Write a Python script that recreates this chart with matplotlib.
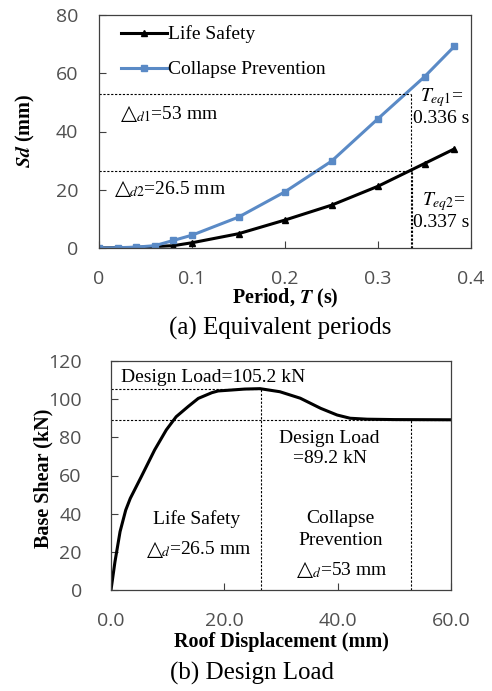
import numpy as np
import matplotlib
matplotlib.use("Agg")
import matplotlib.pyplot as plt

plt.rcParams['mathtext.fontset'] = 'stix'

# (a) equivalent periods
period = [0, 0.02, 0.04, 0.06, 0.08, 0.10, 0.15, 0.20, 0.25, 0.30, 0.35, 0.382]
sd_life = [0, 0.1, 0.2, 0.5, 0.8, 1.8, 4.9, 9.6, 14.7, 21.2, 29.0, 34.0]
sd_collapse = [0, 0.1, 0.3, 0.8, 2.6, 4.4, 10.6, 19.3, 29.8, 44.4, 58.8, 69.2]
d1, d2 = 53.0, 26.5
teq1, teq2 = 0.336, 0.337

# (b) design load (pushover curve)
disp = [0, 0.7, 1.6, 2.6, 3.4, 5.35, 7.7, 9.76, 11.5, 13.6, 15.4, 17.8, 18.9,
        21.3, 23.6, 26.3, 29.8, 33.4, 37.0, 39.9, 42.2, 45.2, 50.0, 60.0]
shear = [0, 14.8, 30.6, 41.9, 48.0, 59.4, 73.4, 83.9, 90.8, 96.1, 100.4, 103.4,
         104.3, 104.8, 105.3, 105.5, 103.9, 100.5, 95.2, 91.7, 90.0, 89.5,
         89.3, 89.2]
load_peak, load_cp = 105.2, 89.2
d_ls, d_cp = 26.5, 53.0

W, H = 492, 691
fig = plt.figure(figsize=(W / 100, H / 100), dpi=100)

serif = ['Liberation Serif', 'DejaVu Serif']
sans = ['Open Sans', 'DejaVu Sans']
tick_col = '#505050'
blue = '#5A8AC6'
dash = (0, (2, 1.5))


def px_axes(l, t, r, b):
    return fig.add_axes([l / W, 1 - b / H, (r - l) / W, (b - t) / H])


def style(ax, pad_x, pad_y):
    ax.tick_params(direction='in', length=5, width=0.8, colors='#404040',
                   labelcolor=tick_col, labelsize=14)
    ax.tick_params(axis='x', pad=pad_x)
    ax.tick_params(axis='y', pad=pad_y)
    for lab in ax.get_xticklabels() + ax.get_yticklabels():
        lab.set_family(sans)
    for sp in ax.spines.values():
        sp.set_color('#404040')
        sp.set_linewidth(0.9)


def delta_text(ax, x, y, sub, rest):
    # hollow triangle followed by italic subscript and the value
    ax.annotate('\u25b3', (x, y), fontsize=15, family=['DejaVu Sans'],
                va='baseline', ha='left')
    ax.annotate(r'$_{\mathit{' + sub + r'}}$' + rest, (x, y),
                xytext=(10.5, 0), textcoords='offset points',
                fontsize=14, family=serif, va='baseline', ha='left')


# ---- top chart ----
ax1 = px_axes(99, 15, 471, 248)
ax1.plot(period, sd_life, color='black', lw=2.2, marker='^', ms=4,
         label='Life Safety')
ax1.plot(period, sd_collapse, color=blue, lw=2.2, marker='s', ms=4,
         label='Collapse Prevention')
ax1.plot([0, teq1], [d1, d1], color='black', lw=0.8, ls=dash)
ax1.plot([teq1, teq1], [0, d1], color='black', lw=0.8, ls=dash)
ax1.plot([0, teq2], [d2, d2], color='black', lw=0.8, ls=dash)
ax1.plot([teq2, teq2], [0, d2], color='black', lw=0.8, ls=dash)
ax1.set_xlim(0, 0.4)
ax1.set_ylim(0, 80)
ax1.set_xticks([0, 0.1, 0.2, 0.3, 0.4])
ax1.set_xticklabels(['0', '0.1', '0.2', '0.3', '0.4'])
ax1.set_yticks([0, 20, 40, 60, 80])
style(ax1, 16, 15)
ax1.legend(loc='upper left', frameon=False, handlelength=2.4,
           handletextpad=0.05, labelspacing=0.9, borderaxespad=0,
           borderpad=0, bbox_to_anchor=(0.058, 0.955),
           prop={'family': serif, 'size': 14})

delta_text(ax1, 0.0237, 44.2, 'd1', '=53 mm')
delta_text(ax1, 0.017, 18.4, 'd2', '=26.5 mm')
ax1.text(0.345, 51.5, r'$T_{eq1}$=', family=serif, fontsize=14, va='center')
ax1.text(0.3376, 44.6, '0.336 s', family=serif, fontsize=14, va='center')
ax1.text(0.347, 15.8, r'$T_{eq2}$=', family=serif, fontsize=14, va='center')
ax1.text(0.3376, 8.6, '0.337 s', family=serif, fontsize=14, va='center')

fig.text(285 / W, 1 - 298 / H, r'Period, $\mathbfit{T}$ (s)', family=serif,
         fontsize=14.5, weight='bold', ha='center', va='center')
fig.text(25 / W, 1 - 131 / H, r'$\mathbfit{Sd}$ (mm)', family=serif,
         fontsize=14.5, weight='bold', ha='center', va='center', rotation=90)
fig.text(280 / W, 1 - 328 / H, '(a) Equivalent periods', family=serif,
         fontsize=18, ha='center', va='center')

# ---- bottom chart ----
ax2 = px_axes(111, 361, 451, 590)
ax2.plot(disp, shear, color='black', lw=2.2)
ax2.plot([0, d_ls], [load_peak, load_peak], color='black', lw=0.8, ls=dash)
ax2.plot([d_ls, d_ls], [0, load_peak], color='black', lw=0.8, ls=dash)
ax2.plot([0, 60], [load_cp, load_cp], color='black', lw=0.8, ls=dash)
ax2.plot([d_cp, d_cp], [0, load_cp], color='black', lw=0.8, ls=dash)
ax2.set_xlim(0, 60)
ax2.set_ylim(0, 120)
ax2.set_xticks([0, 20, 40, 60])
ax2.set_xticklabels(['0.0', '20.0', '40.0', '60.0'])
ax2.set_yticks([0, 20, 40, 60, 80, 100, 120])
style(ax2, 16, 21)

ax2.text(1.8, 111.6, 'Design Load=105.2 kN', family=serif, fontsize=14,
         va='center')
ax2.text(38.6, 79.4, 'Design Load', family=serif, fontsize=14,
         ha='center', va='center')
ax2.text(38.6, 68.9, '=89.2 kN', family=serif, fontsize=14,
         ha='center', va='center')
ax2.text(15.1, 37, 'Life Safety', family=serif, fontsize=14,
         ha='center', va='center')
delta_text(ax2, 6.3, 18.6, 'd', '=26.5 mm')
ax2.text(40.5, 37.5, 'Collapse', family=serif, fontsize=14,
         ha='center', va='center')
ax2.text(40.5, 26.2, 'Prevention', family=serif, fontsize=14,
         ha='center', va='center')
delta_text(ax2, 32.9, 7.6, 'd', '=53 mm')

fig.text(281 / W, 1 - 642 / H, 'Roof Displacement (mm)', family=serif,
         fontsize=14.5, weight='bold', ha='center', va='center')
fig.text(43 / W, 1 - 478 / H, 'Base Shear (kN)', family=serif,
         fontsize=14.5, weight='bold', ha='center', va='center', rotation=90)
fig.text(252 / W, 1 - 673 / H, '(b) Design Load', family=serif,
         fontsize=18, ha='center', va='center')

fig.savefig('out.png', dpi=100)
